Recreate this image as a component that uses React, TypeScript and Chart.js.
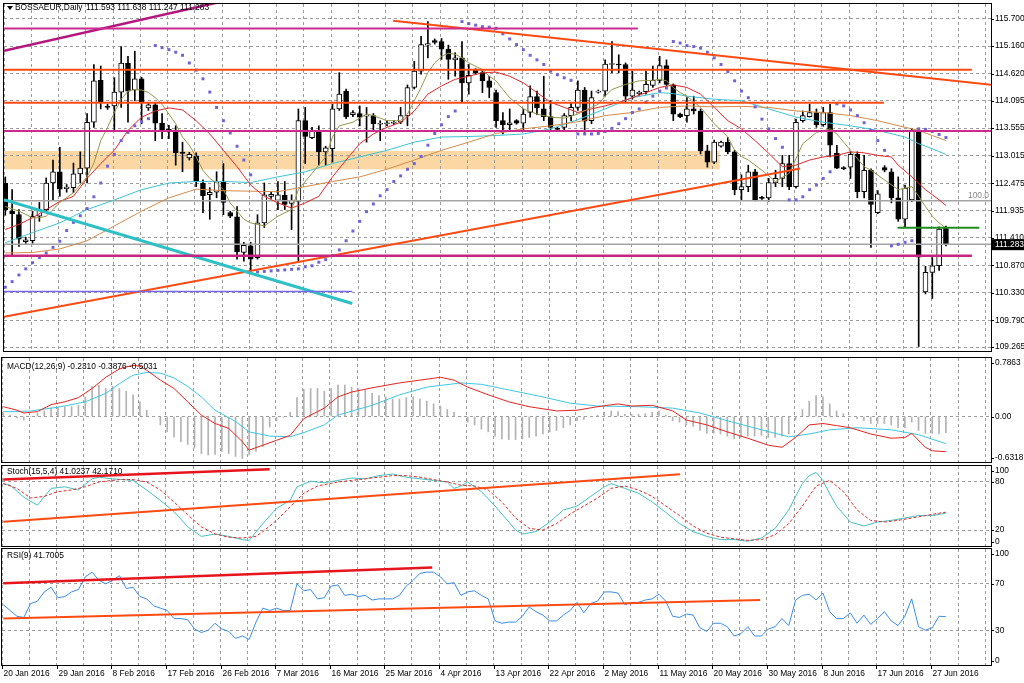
import React, { useEffect, useRef } from "react";
import { Chart, registerables } from "chart.js";

Chart.register(...registerables);

const FONT = '"Liberation Sans", "DejaVu Sans", Arial, sans-serif';

// ---------- DATA ----------
const DATE_LABELS = ["20 Jan 2016", "29 Jan 2016", "8 Feb 2016", "17 Feb 2016", "26 Feb 2016", "7 Mar 2016", "16 Mar 2016", "25 Mar 2016", "4 Apr 2016", "13 Apr 2016", "22 Apr 2016", "2 May 2016", "11 May 2016", "20 May 2016", "30 May 2016", "8 Jun 2016", "17 Jun 2016", "27 Jun 2016"];
const DATE_BARS = [0, 8, 16, 24, 32, 40, 48, 56, 64, 72, 80, 88, 96, 104, 112, 120, 128, 136];
const PRICE_TICKS = [115.7, 115.16, 114.62, 114.095, 113.555, 113.015, 112.475, 111.935, 111.41, 110.87, 110.33, 109.79, 109.265];

const OPEN = [
  112.48, 111.93, 111.86, 111.33, 111.35, 111.83, 111.96, 112.48, 112.70, 112.37,
  112.39, 112.66, 112.77, 113.67, 114.49, 113.98, 113.99, 114.26, 114.83, 114.30,
  114.52, 113.95, 114.01, 113.65, 113.53, 113.47, 113.08, 112.97, 113.00, 112.48,
  112.25, 112.30, 112.51, 111.90, 111.82, 111.12, 111.25, 111.02, 111.70, 112.22,
  112.14, 112.24, 112.08, 112.12, 113.70, 113.37, 113.51, 113.09, 113.15, 113.93,
  114.28, 113.82, 113.84, 113.79, 113.80, 113.63, 113.64, 113.65, 113.67, 113.80,
  114.35, 114.67, 115.18, 115.27, 115.25, 115.10, 114.89, 114.93, 114.44, 114.70,
  114.64, 114.48, 114.25, 113.70, 113.62, 113.70, 113.65, 113.86, 114.17, 113.93,
  113.78, 113.55, 113.57, 113.80, 113.96, 114.30, 113.70, 114.26, 114.28, 114.80,
  114.81, 114.80, 114.18, 114.23, 114.27, 114.39, 114.49, 114.78, 114.40, 113.83,
  113.80, 113.93, 113.89, 113.11, 112.89, 113.20, 113.28, 113.09, 112.35, 112.41,
  112.70, 112.20, 112.19, 112.48, 112.57, 112.86, 112.41, 113.70, 113.78, 113.86,
  113.62, 113.86, 113.06, 112.78, 112.79, 113.04, 112.31, 112.73, 111.90, 112.78,
  112.70, 112.19, 111.77, 112.15, 113.51, 110.35, 110.73, 110.86, 111.593];
const HIGH = [
  112.60, 112.35, 111.96, 111.42, 111.93, 112.10, 112.58, 112.93, 113.18, 112.45,
  112.87, 113.09, 113.84, 114.80, 114.77, 114.02, 114.54, 115.15, 114.96, 115.06,
  114.55, 114.05, 114.05, 113.84, 113.61, 113.60, 113.28, 113.08, 113.07, 112.54,
  112.39, 112.70, 112.86, 111.93, 112.02, 111.32, 111.32, 111.86, 112.48, 112.30,
  112.51, 112.51, 112.25, 113.93, 113.96, 113.57, 113.60, 113.20, 114.02, 114.64,
  114.32, 113.90, 113.99, 113.96, 113.84, 113.70, 113.70, 113.70, 113.96, 114.40,
  114.86, 115.35, 115.64, 115.30, 115.31, 115.18, 115.03, 115.25, 114.80, 114.72,
  114.68, 114.57, 114.30, 113.86, 113.93, 113.72, 113.93, 114.38, 114.28, 114.57,
  114.09, 113.57, 113.84, 114.05, 114.48, 114.35, 114.28, 114.30, 114.89, 115.25,
  114.99, 114.83, 114.67, 114.28, 114.67, 114.77, 114.96, 114.89, 114.42, 113.85,
  114.15, 114.18, 113.93, 113.22, 113.32, 113.30, 113.37, 113.12, 112.64, 112.83,
  112.75, 112.22, 112.57, 112.73, 113.02, 113.02, 113.73, 113.89, 114.02, 113.93,
  113.96, 114.02, 113.22, 112.80, 113.09, 113.09, 113.02, 112.76, 112.33, 112.82,
  112.76, 112.60, 112.44, 113.54, 113.54, 110.85, 111.02, 111.62, 111.638];
const LOW = [
  111.85, 111.05, 111.24, 111.28, 111.30, 111.73, 111.90, 112.15, 112.22, 112.30,
  112.29, 112.48, 112.48, 113.57, 113.93, 113.92, 113.51, 113.96, 113.67, 114.09,
  113.64, 113.90, 113.31, 113.35, 113.35, 112.83, 112.70, 112.93, 112.41, 111.90,
  111.77, 112.19, 111.86, 111.80, 110.99, 110.95, 110.73, 110.99, 111.61, 112.18,
  111.96, 111.96, 111.57, 110.93, 112.86, 113.35, 112.83, 112.83, 112.89, 113.90,
  113.74, 113.78, 113.60, 113.28, 113.52, 113.31, 113.60, 113.62, 113.64, 113.60,
  114.32, 114.61, 114.93, 115.20, 114.90, 114.51, 114.57, 114.06, 114.22, 114.60,
  114.25, 114.15, 113.57, 113.44, 113.51, 113.63, 113.51, 113.77, 113.82, 113.70,
  113.51, 113.50, 113.51, 113.70, 113.90, 113.47, 113.64, 114.24, 114.18, 114.64,
  114.64, 114.06, 114.12, 114.20, 114.22, 114.35, 114.44, 114.39, 113.70, 113.76,
  113.67, 113.83, 113.05, 112.79, 112.86, 113.18, 113.05, 112.25, 112.15, 112.31,
  112.13, 112.16, 112.12, 112.41, 112.41, 112.35, 112.38, 113.67, 113.77, 113.57,
  113.59, 112.99, 112.76, 112.74, 112.57, 112.19, 112.19, 111.22, 111.88, 112.70,
  112.09, 111.73, 111.61, 112.12, 109.28, 110.31, 110.22, 110.77, 111.247];
const CLOSE = [
  111.96, 111.88, 111.38, 111.37, 111.83, 111.96, 112.48, 112.70, 112.36, 112.40,
  112.66, 112.77, 113.67, 114.48, 114.07, 113.96, 114.26, 114.83, 114.28, 114.52,
  114.07, 114.01, 113.65, 113.52, 113.49, 113.07, 113.06, 113.04, 112.51, 112.23,
  112.30, 112.51, 112.10, 111.83, 111.13, 111.26, 110.99, 111.70, 112.25, 112.26,
  112.25, 112.06, 112.14, 113.70, 113.39, 113.51, 113.09, 113.17, 113.93, 114.22,
  113.78, 113.86, 113.77, 113.81, 113.64, 113.65, 113.66, 113.67, 113.80, 114.35,
  114.67, 115.19, 115.21, 115.23, 115.10, 114.90, 114.93, 114.44, 114.59, 114.64,
  114.48, 114.35, 113.70, 113.62, 113.66, 113.65, 113.83, 114.17, 113.95, 113.78,
  113.57, 113.53, 113.80, 113.96, 114.30, 113.69, 114.15, 114.28, 114.81, 114.82,
  114.79, 114.18, 114.30, 114.26, 114.41, 114.49, 114.78, 114.41, 113.83, 113.78,
  113.93, 113.89, 113.11, 112.89, 113.28, 113.28, 113.09, 112.35, 112.41, 112.70,
  112.15, 112.18, 112.49, 112.57, 112.86, 112.41, 113.67, 113.80, 113.86, 113.62,
  113.86, 113.22, 112.77, 112.76, 113.04, 112.31, 112.73, 112.06, 112.27, 112.73,
  112.19, 111.77, 112.38, 113.51, 111.03, 110.73, 110.86, 111.58, 111.283];

const SAR = [
  110.44, 110.55, 110.68, 110.80, 110.92, 111.02, 111.11, 111.22, 111.34, 111.55,
  111.71, 111.84, 111.98, 112.21, 112.48, 112.81, 113.04, 113.31, 113.47, 113.60,
  113.68, 113.74, 115.17, 115.13, 115.09, 115.04, 114.98, 114.83, 114.69, 114.52,
  114.26, 113.96, 113.70, 113.46, 113.20, 112.93, 112.64, 110.74, 110.75, 110.76,
  110.77, 110.78, 110.79, 110.80, 110.84, 110.86, 110.93, 110.98, 111.06, 111.17,
  111.35, 111.54, 111.73, 111.92, 112.07, 112.23, 112.35, 112.51, 112.62, 112.75,
  112.86, 113.00, 113.22, 113.45, 113.62, 113.78, 113.89, 115.64, 115.60, 115.57,
  115.54, 115.53, 115.51, 115.40, 115.30, 115.19, 115.09, 114.98, 114.89, 114.80,
  114.67, 114.60, 114.54, 114.49, 113.44, 113.44, 113.44, 113.45, 113.49, 113.55,
  113.64, 113.74, 113.86, 113.93, 114.06, 114.18, 114.28, 114.34, 115.25, 115.22,
  115.17, 115.15, 115.12, 115.04, 114.93, 114.80, 114.66, 114.48, 114.28, 114.15,
  113.97, 113.73, 113.54, 113.35, 113.18, 112.15, 112.15, 112.21, 112.35, 112.44,
  112.57, 112.70, 114.03, 113.99, 113.91, 113.80, 113.66, 113.51, 113.31, 113.12,
  111.25, 111.28, 111.32, 111.35, 113.54, 113.53, 113.49, 113.43, 113.37];

const MA_FAST: [number, number][] = [[0,112.02],[2,111.93],[4,111.80],[5,111.80],[6,111.83],[7,111.96],[8,112.10],[10,112.29],[12,112.60],[13,112.87],[14,113.31],[15,113.57],[16,113.86],[17,114.12],[18,114.28],[19,114.31],[20,114.30],[21,114.25],[22,114.15],[23,114.02],[24,113.83],[25,113.64],[26,113.38],[27,113.22],[28,112.99],[29,112.73],[30,112.57],[31,112.48],[32,112.35],[33,112.09],[34,111.93],[35,111.77],[36,111.70],[38,111.64],[40,111.83],[42,111.96],[43,112.35],[45,112.67],[47,112.99],[48,113.38],[49,113.60],[51,113.67],[53,113.83],[54,113.80],[56,113.70],[58,113.70],[59,113.83],[60,114.09],[61,114.35],[62,114.64],[63,114.83],[64,114.96],[65,115.02],[66,115.00],[67,114.93],[68,114.83],[70,114.70],[71,114.57],[72,114.48],[73,114.31],[74,114.15],[76,113.93],[78,113.83],[80,113.77],[82,113.75],[84,113.83],[86,113.96],[87,114.02],[88,114.18],[89,114.31],[91,114.41],[93,114.48],[95,114.49],[96,114.51],[97,114.48],[98,114.35],[99,114.25],[100,114.18],[102,113.96],[104,113.64],[106,113.38],[107,113.12],[108,113.00],[109,112.93],[111,112.73],[113,112.51],[115,112.67],[116,112.96],[117,113.25],[119,113.47],[121,113.54],[122,113.44],[123,113.28],[124,113.12],[126,112.80],[127,112.73],[129,112.54],[131,112.35],[133,112.41],[134,112.22],[135,112.02],[136,111.83],[137,111.70],[138,111.60]];
const MA_MID: [number, number][] = [[0,111.57],[2,111.67],[4,111.80],[6,111.96],[8,112.12],[10,112.22],[12,112.57],[14,112.86],[16,113.12],[18,113.51],[20,113.77],[22,113.89],[24,113.95],[26,113.91],[28,113.70],[30,113.44],[32,113.12],[34,112.80],[36,112.44],[38,112.22],[40,112.09],[42,111.99],[44,112.09],[46,112.22],[48,112.60],[50,112.93],[52,113.25],[54,113.44],[56,113.57],[58,113.67],[60,113.89],[62,114.22],[64,114.38],[66,114.51],[68,114.57],[70,114.64],[72,114.65],[74,114.57],[76,114.44],[78,114.25],[80,114.06],[82,113.96],[84,113.86],[86,113.93],[88,113.99],[90,114.06],[92,114.15],[94,114.25],[96,114.35],[98,114.40],[100,114.35],[102,114.22],[104,113.96],[106,113.70],[108,113.54],[110,113.31],[112,113.06],[114,112.80],[116,112.83],[118,112.93],[120,112.99],[122,113.02],[124,113.09],[126,113.07],[128,113.02],[130,112.99],[131,112.83],[133,112.60],[135,112.35],[137,112.15],[138,112.04]];
const MA_SLOW: [number, number][] = [[0,111.31],[4,111.51],[8,111.70],[12,111.96],[16,112.15],[20,112.35],[24,112.48],[28,112.51],[32,112.51],[36,112.49],[40,112.60],[44,112.70],[48,112.86],[52,112.99],[56,113.12],[60,113.28],[64,113.38],[68,113.39],[72,113.41],[76,113.44],[80,113.54],[84,113.72],[88,113.93],[92,114.15],[96,114.25],[98,114.23],[100,114.18],[104,114.12],[108,114.09],[112,113.93],[116,113.77],[120,113.67],[124,113.60],[128,113.51],[132,113.38],[134,113.25],[136,113.15],[138,113.04]];
const MA_LONG: [number, number][] = [[0,111.11],[4,111.12],[8,111.19],[12,111.35],[16,111.64],[20,111.93],[24,112.19],[28,112.36],[32,112.33],[36,112.32],[40,112.31],[44,112.41],[48,112.51],[52,112.60],[56,112.75],[60,112.93],[64,113.12],[68,113.28],[72,113.45],[76,113.54],[80,113.60],[84,113.68],[88,113.80],[92,113.86],[96,113.96],[100,113.99],[104,113.97],[108,113.98],[112,113.96],[116,113.89],[120,113.86],[124,113.80],[128,113.70],[132,113.57],[134,113.51],[136,113.41],[138,113.31]];

// Drawn objects (bar index, price)
const TREND_PURPLE: [number, number][] = [[-0.19, 115.07], [36, 116.16]];
const TREND_CYAN: [number, number][] = [[-0.19, 112.153], [50.9, 110.121]];
const TREND_UP: [number, number][] = [[-0.19, 109.864], [116.6, 112.766]];
const TREND_DOWN: [number, number][] = [[56.9, 115.655], [144.61, 114.403]];
const LEVEL_MAGENTA_TOP: [number, number][] = [[-0.19, 115.506], [92.8, 115.506]];
const LEVEL_ORANGE_1: [number, number][] = [[-0.19, 114.698], [141.8, 114.698]];
const LEVEL_ORANGE_2: [number, number][] = [[-0.19, 114.05], [128.9, 114.05]];
const LEVEL_MAGENTA_MID: [number, number][] = [[-0.19, 113.498], [144.61, 113.498]];
const LEVEL_FIB100: [number, number][] = [[-0.19, 112.134], [144.61, 112.134]];
const LEVEL_GREEN: [number, number][] = [[130.9, 111.606], [142.9, 111.606]];
const LEVEL_BID: [number, number][] = [[-0.19, 111.283], [144.61, 111.283]];
const LEVEL_MAGENTA_LOW: [number, number][] = [[-0.19, 111.056], [141.8, 111.056]];
const LEVEL_SLATE: [number, number][] = [[-0.19, 110.359], [50.9, 110.359]];
const ZONE = { from: -0.19, to: 104.8, low: 112.747, high: 113.107 };

const MACD_HIST = [
  0.05, 0.02, -0.02, -0.05, 0.00, 0.05, 0.08, 0.12, 0.13, 0.14,
  0.14, 0.16, 0.28, 0.43, 0.45, 0.40, 0.43, 0.40, 0.36, 0.31,
  0.21, 0.09, 0.00, -0.12, -0.22, -0.29, -0.36, -0.40, -0.45, -0.53,
  -0.55, -0.54, -0.50, -0.53, -0.57, -0.60, -0.55, -0.50, -0.43, -0.15,
  -0.06, -0.01, 0.06, 0.27, 0.39, 0.40, 0.40, 0.36, 0.40, 0.45,
  0.45, 0.42, 0.40, 0.38, 0.33, 0.30, 0.28, 0.25, 0.25, 0.27,
  0.28, 0.25, 0.22, 0.18, 0.15, 0.10, 0.06, 0.00, -0.08, -0.12,
  -0.18, -0.22, -0.28, -0.32, -0.33, -0.33, -0.32, -0.30, -0.28, -0.25,
  -0.22, -0.20, -0.16, -0.12, -0.06, -0.04, 0.00, 0.02, 0.06, 0.08,
  0.07, 0.03, 0.03, 0.03, 0.04, 0.06, 0.08, 0.02, -0.06, -0.08,
  -0.12, -0.14, -0.20, -0.24, -0.24, -0.25, -0.28, -0.32, -0.30, -0.28,
  -0.28, -0.27, -0.30, -0.30, -0.28, -0.25, -0.05, 0.10, 0.22, 0.30,
  0.28, 0.18, 0.08, 0.04, 0.00, -0.03, -0.06, -0.10, -0.10, -0.10,
  -0.12, -0.16, -0.16, -0.08, -0.20, -0.24, -0.24, -0.25, -0.231];
const MACD_MAIN: [number, number][] = [[0,0.14],[2,0.09],[3,0.05],[5,0.07],[7,0.17],[9,0.21],[11,0.27],[13,0.40],[15,0.56],[17,0.68],[18,0.71],[19,0.73],[20,0.72],[21,0.66],[23,0.52],[25,0.40],[27,0.21],[29,0.02],[31,-0.10],[33,-0.17],[35,-0.36],[36,-0.48],[38,-0.41],[40,-0.34],[42,-0.27],[43,-0.15],[44,-0.03],[46,0.07],[47,0.12],[49,0.28],[51,0.35],[54,0.41],[58,0.48],[61,0.52],[64,0.56],[66,0.52],[68,0.42],[71,0.31],[74,0.21],[77,0.14],[81,0.08],[84,0.09],[87,0.14],[90,0.18],[92,0.15],[95,0.16],[98,0.08],[100,-0.05],[103,-0.12],[106,-0.22],[109,-0.31],[112,-0.41],[114,-0.44],[116,-0.30],[118,-0.12],[120,-0.10],[122,-0.13],[124,-0.16],[127,-0.25],[130,-0.31],[132,-0.30],[133,-0.24],[135,-0.44],[136,-0.49],[138,-0.5031]];
const MACD_SIGNAL: [number, number][] = [[0,0.07],[2,0.07],[4,0.08],[7,0.12],[9,0.15],[12,0.21],[15,0.33],[17,0.47],[19,0.59],[21,0.63],[23,0.62],[25,0.55],[27,0.43],[29,0.28],[31,0.09],[34,-0.07],[36,-0.22],[39,-0.28],[42,-0.29],[44,-0.23],[47,-0.12],[49,0.02],[54,0.16],[58,0.31],[62,0.42],[67,0.48],[70,0.46],[74,0.38],[79,0.28],[83,0.19],[87,0.15],[93,0.14],[98,0.12],[102,0.05],[106,-0.06],[111,-0.19],[115,-0.29],[118,-0.25],[121,-0.19],[125,-0.16],[130,-0.19],[134,-0.26],[138,-0.3876]];

const STOCH_MAIN: [number, number][] = [[0,78],[1,76],[3,61],[5,51],[7,72],[9,74],[11,70],[13,84],[14,86],[16,84],[19,82],[21,70],[23,57],[25,43],[27,24],[29,12],[31,15],[33,12],[35,8],[36,7],[38,28],[40,47],[42,57],[43,74],[45,81],[47,79],[49,82],[51,85],[53,84],[55,88],[57,90],[59,86],[61,84],[63,82],[65,80],[66,72],[67,75],[68,80],[70,68],[72,50],[74,30],[75,20],[76,15],[78,18],[80,30],[82,45],[84,50],[86,62],[88,74],[89,78],[91,72],[93,66],[95,55],[97,42],[99,28],[101,18],[103,12],[105,8],[107,8],[109,6],[111,10],[113,22],[115,45],[116,62],[117,78],[118,88],[119,92],[120,82],[121,65],[122,50],[124,30],[126,25],[128,30],[130,32],[132,35],[134,38],[136,38],[138,41.02]];
const STOCH_SIGNAL: [number, number][] = [[0,78],[2,72],[4,60],[6,62],[8,68],[10,70],[12,74],[14,80],[17,83],[19,83],[21,80],[23,70],[25,55],[27,39],[29,24],[31,15],[33,11],[35,10],[37,12],[38,18],[40,32],[42,49],[44,66],[46,75],[49,80],[51,82],[53,84],[55,86],[57,88],[59,88],[61,86],[63,83],[65,80],[67,76],[69,75],[71,70],[73,55],[75,35],[77,22],[79,20],[81,28],[83,40],[85,50],[87,60],[89,72],[91,75],[93,70],[95,62],[97,50],[99,38],[101,25],[103,16],[105,11],[107,9],[109,7],[111,8],[113,14],[115,28],[117,50],[119,75],[121,82],[123,68],[125,45],[127,32],[129,30],[131,32],[133,35],[135,38],[137,41],[138,42.17]];
const STOCH_TREND_HIGH: [number, number][] = [[0, 83], [39, 95.8]];
const STOCH_TREND_LOW: [number, number][] = [[0, 30.2], [99.1, 89.6]];

const RSI = [
  52, 47, 42, 41, 53, 55, 63, 67, 58, 59,
  63, 65, 76, 80, 73, 70, 73, 77, 66, 67,
  59, 57, 51, 49, 47, 40, 40, 39, 31, 28,
  30, 36, 31, 29, 23, 25, 22, 37, 49, 47,
  49, 47, 47, 70, 64, 65, 57, 58, 68, 69,
  60, 61, 59, 60, 56, 57, 57, 57, 60, 68,
  73, 79, 80, 80, 76, 70, 71, 60, 63, 64,
  60, 57, 38, 36, 37, 37, 42, 50, 46, 43,
  38, 38, 43, 47, 54, 45, 53, 55, 63, 63,
  62, 52, 54, 54, 56, 57, 61, 55, 42, 41,
  44, 43, 32, 29, 36, 36, 33, 25, 27, 33,
  25, 25, 31, 33, 40, 34, 56, 60, 61, 56,
  62, 46, 40, 40, 45, 36, 43, 35, 40, 46,
  38, 34, 42, 57, 33, 30, 32, 42, 41.7];
const RSI_TREND_HIGH: [number, number][] = [[0, 70.5], [62.8, 84]];
const RSI_TREND_LOW: [number, number][] = [[0, 40.0], [110.8, 56.0]];

// ---------- GEOMETRY / STYLE ----------
const XMIN = -0.19;
const XMAX = 144.61;
const VGRID = Array.from({ length: 37 }, (_, k) => XMIN + 4 * k);
const GRID = "#9c9c9c";

const pts = (a: [number, number][]) => a.map(([x, y]) => ({ x, y }));
const line = (a: [number, number][], color: string, width: number, order = 3, dash?: number[]) => ({
  type: "line" as const,
  data: pts(a),
  borderColor: color,
  borderWidth: width,
  borderDash: dash,
  pointRadius: 0,
  fill: false,
  tension: 0,
  order,
});

function scalesFor(min: number, max: number, hgrid: number[]) {
  return {
    x: {
      type: "linear",
      min: XMIN,
      max: XMAX,
      offset: false,
      afterFit: (s: any) => { s.height = 0; },
      afterBuildTicks: (s: any) => { s.ticks = VGRID.map((v) => ({ value: v })); },
      ticks: { display: false },
      grid: { color: GRID, lineWidth: 1, drawTicks: false, offset: false },
      border: { display: false, dash: [3, 3] },
    },
    y: {
      type: "linear",
      position: "right",
      min,
      max,
      afterFit: (s: any) => { s.width = 33; },
      afterBuildTicks: (s: any) => { s.ticks = hgrid.map((v) => ({ value: v })); },
      ticks: { display: false },
      grid: { color: GRID, lineWidth: 1, drawTicks: false },
      border: { display: false, dash: [3, 3] },
    },
  };
}

function decor(id: string, o: {
  header: { x: number; t: string }[];
  headerY: number;
  labels: { v: number; t: string }[];
  before?: (c: any) => void;
  after?: (c: any) => void;
}) {
  return {
    id,
    beforeDraw(c: any) {
      if (o.before) o.before(c);
    },
    afterDraw(c: any) {
      const ctx = c.ctx;
      const { left, top, right, bottom } = c.chartArea;
      ctx.save();
      ctx.strokeStyle = "#000";
      ctx.lineWidth = 1;
      ctx.strokeRect(left - 0.5, top - 0.5, right - left + 1, bottom - top + 1);
      ctx.font = `8.4px ${FONT}`;
      ctx.fillStyle = "#000";
      ctx.textBaseline = "middle";
      ctx.textAlign = "left";
      for (const h of o.header) ctx.fillText(h.t, h.x, o.headerY);
      const ys = c.scales.y;
      for (const l of o.labels) {
        let y = ys.getPixelForValue(l.v);
        y = Math.max(top + 5, Math.min(bottom - 4, y));
        ctx.beginPath();
        ctx.moveTo(right, Math.round(y) + 0.5);
        ctx.lineTo(right + 3, Math.round(y) + 0.5);
        ctx.stroke();
        ctx.fillText(l.t, right + 4, y);
      }
      if (o.after) o.after(c);
      ctx.restore();
    },
  };
}

const base = (padding: any) => ({
  responsive: false,
  maintainAspectRatio: false,
  animation: false as const,
  devicePixelRatio: 1,
  events: [] as any[],
  layout: { padding },
  plugins: { legend: { display: false }, tooltip: { enabled: false } },
});

function mainConfig(): any {
  const idx = OPEN.map((_, i) => i);
  return {
    type: "bar",
    data: {
      datasets: [
        {
          type: "bar",
          data: idx.map((i) => ({ x: i, y: [LOW[i], HIGH[i]] })),
          backgroundColor: "#000",
          barThickness: 1,
          grouped: false,
          order: 20,
        },
        {
          type: "bar",
          data: idx.map((i) => ({ x: i, y: [Math.min(OPEN[i], CLOSE[i]), Math.max(OPEN[i], CLOSE[i])] })),
          backgroundColor: idx.map((i) => (CLOSE[i] >= OPEN[i] ? "#ffffff" : "#000000")),
          borderColor: "#000",
          borderWidth: 1,
          borderSkipped: false,
          barThickness: 5,
          minBarLength: 1,
          grouped: false,
          order: 19,
        },
        line(LEVEL_FIB100, "#a4a4a4", 1.5, 15),
        line(LEVEL_BID, "#a4a4a4", 1.5, 15),
        line(MA_LONG, "#d58a48", 1, 10),
        line(MA_SLOW, "#3cc4d4", 1, 10),
        line(MA_MID, "#e3262b", 1, 9),
        line(MA_FAST, "#96964a", 1, 8),
        {
          type: "line",
          data: idx.map((i) => ({ x: i, y: SAR[i] })),
          showLine: false,
          pointStyle: "rect",
          pointRadius: 2.1,
          pointBackgroundColor: "#6f63d8",
          pointBorderWidth: 0,
          order: 7,
        },
        line(LEVEL_MAGENTA_TOP, "#cc2a8e", 2, 2),
        line(LEVEL_ORANGE_1, "#ff4a12", 2, 2),
        line(LEVEL_ORANGE_2, "#ff4a12", 2, 2),
        line(LEVEL_MAGENTA_MID, "#cc2a8e", 2, 2),
        line(LEVEL_GREEN, "#1f8f1f", 2, 2),
        line(LEVEL_MAGENTA_LOW, "#c8247f", 2.5, 2),
        line(LEVEL_SLATE, "#7466e6", 1.5, 2),
        line(TREND_PURPLE, "#b3177e", 2.5, 2),
        line(TREND_CYAN, "#2fc0c6", 3, 2),
        line(TREND_UP, "#ff4a12", 2, 2),
        line(TREND_DOWN, "#ff4a12", 2, 2),
      ],
    },
    options: {
      ...base({ left: 2, right: 0, top: 2, bottom: 2 }),
      scales: scalesFor(109.192, 115.984, PRICE_TICKS),
    },
    plugins: [
      decor("mainDecor", {
        header: [
          { x: 15, t: "BOSSAEUR,Daily" },
          { x: 86, t: "111.593 111.638 111.247 111.283" },
        ],
        headerY: 8,
        labels: PRICE_TICKS.map((v) => ({ v, t: v.toFixed(3) })),
        before: (c: any) => {
          const ctx = c.ctx;
          const xs = c.scales.x, ys = c.scales.y;
          const x1 = xs.getPixelForValue(ZONE.from), x2 = xs.getPixelForValue(ZONE.to);
          const y1 = ys.getPixelForValue(ZONE.high), y2 = ys.getPixelForValue(ZONE.low);
          ctx.save();
          ctx.fillStyle = "#fbd8a3";
          ctx.fillRect(x1, y1, x2 - x1, y2 - y1);
          ctx.restore();
        },
        after: (c: any) => {
          const ctx = c.ctx;
          const ys = c.scales.y;
          const { right } = c.chartArea;
          ctx.beginPath();
          ctx.moveTo(7, 6); ctx.lineTo(13, 6); ctx.lineTo(10, 10); ctx.closePath();
          ctx.fill();
          ctx.fillStyle = "#8a8a8a";
          ctx.textAlign = "right";
          ctx.fillText("100.0", right - 2, ys.getPixelForValue(LEVEL_FIB100[0][1]) - 5);
          const yb = ys.getPixelForValue(LEVEL_BID[0][1]);
          ctx.fillStyle = "#000";
          ctx.fillRect(right + 1, yb - 5, 33, 11);
          ctx.fillStyle = "#fff";
          ctx.textAlign = "left";
          ctx.fillText("111.283", right + 4, yb + 0.5);
        },
      }),
    ],
  };
}

function macdConfig(): any {
  return {
    type: "bar",
    data: {
      datasets: [
        {
          type: "bar",
          data: MACD_HIST.map((v, i) => ({ x: i, y: v })),
          backgroundColor: "#b2b2b2",
          barThickness: 1,
          grouped: false,
          order: 10,
        },
        line(MACD_SIGNAL, "#3ec6e2", 1, 5),
        line(MACD_MAIN, "#e8231f", 1, 4),
      ],
    },
    options: {
      ...base({ left: 2, right: 0, top: 3, bottom: 2 }),
      scales: scalesFor(-0.65, 0.836, [0]),
    },
    plugins: [
      decor("macdDecor", {
        header: [{ x: 7, t: "MACD(12,26,9) -0.2310 -0.3876 -0.5031" }],
        headerY: 12,
        labels: [
          { v: 0.7863, t: "0.7863" },
          { v: 0, t: "0.00" },
          { v: -0.6318, t: "-0.6318" },
        ],
      }),
    ],
  };
}

function stochConfig(): any {
  return {
    type: "line",
    data: {
      datasets: [
        line(STOCH_MAIN, "#45bfc0", 1, 5),
        line(STOCH_SIGNAL, "#e02a2a", 1, 4, [3, 2]),
        line(STOCH_TREND_HIGH, "#e8141c", 2.5, 2),
        line(STOCH_TREND_LOW, "#ff4a12", 2, 2),
      ],
    },
    options: {
      ...base({ left: 2, right: 0, top: 2, bottom: 2 }),
      scales: scalesFor(0, 100, [80, 20]),
    },
    plugins: [
      decor("stochDecor", {
        header: [{ x: 7, t: "Stoch(15,5,4) 41.0237 42.1710" }],
        headerY: 8,
        labels: [
          { v: 100, t: "100" },
          { v: 80, t: "80" },
          { v: 20, t: "20" },
          { v: 0, t: "0" },
        ],
      }),
    ],
  };
}

function rsiConfig(): any {
  return {
    type: "line",
    data: {
      datasets: [
        line(RSI.map((v, i) => [i, v] as [number, number]), "#3a8ee6", 1, 5),
        line(RSI_TREND_HIGH, "#e8141c", 2.5, 2),
        line(RSI_TREND_LOW, "#ff4a12", 2, 2),
      ],
    },
    options: {
      ...base({ left: 2, right: 0, top: 1, bottom: 18 }),
      scales: scalesFor(0, 100, [70, 30]),
    },
    plugins: [
      decor("rsiDecor", {
        header: [{ x: 7, t: "RSI(9) 41.7005" }],
        headerY: 8,
        labels: [
          { v: 100, t: "100" },
          { v: 70, t: "70" },
          { v: 30, t: "30" },
          { v: 0, t: "0" },
        ],
        after: (c: any) => {
          const ctx = c.ctx;
          const xs = c.scales.x;
          const { bottom } = c.chartArea;
          ctx.fillStyle = "#000";
          ctx.strokeStyle = "#000";
          ctx.textAlign = "left";
          DATE_BARS.forEach((b, k) => {
            const x = Math.round(xs.getPixelForValue(b + XMIN)) + 0.5;
            ctx.beginPath();
            ctx.moveTo(x, bottom);
            ctx.lineTo(x, bottom + 4);
            ctx.stroke();
            ctx.fillText(DATE_LABELS[k], x + 1, bottom + 9);
          });
        },
      }),
    ],
  };
}

export default function App() {
  const r1 = useRef<HTMLCanvasElement>(null);
  const r2 = useRef<HTMLCanvasElement>(null);
  const r3 = useRef<HTMLCanvasElement>(null);
  const r4 = useRef<HTMLCanvasElement>(null);

  useEffect(() => {
    const charts = [
      new Chart(r1.current as HTMLCanvasElement, mainConfig()),
      new Chart(r2.current as HTMLCanvasElement, macdConfig()),
      new Chart(r3.current as HTMLCanvasElement, stochConfig()),
      new Chart(r4.current as HTMLCanvasElement, rsiConfig()),
    ];
    return () => charts.forEach((c) => c.destroy());
  }, []);

  const cs = (top: number): React.CSSProperties => ({ position: "absolute", left: 0, top, display: "block" });
  return (
    <div style={{ position: "absolute", left: 0, top: 0, width: 1024, height: 683, background: "#fff", overflow: "hidden" }}>
      <canvas ref={r1} width={1024} height={355} style={cs(0)} />
      <canvas ref={r2} width={1024} height={109} style={cs(355)} />
      <canvas ref={r3} width={1024} height={84} style={cs(464)} />
      <canvas ref={r4} width={1024} height={135} style={cs(548)} />
    </div>
  );
}
